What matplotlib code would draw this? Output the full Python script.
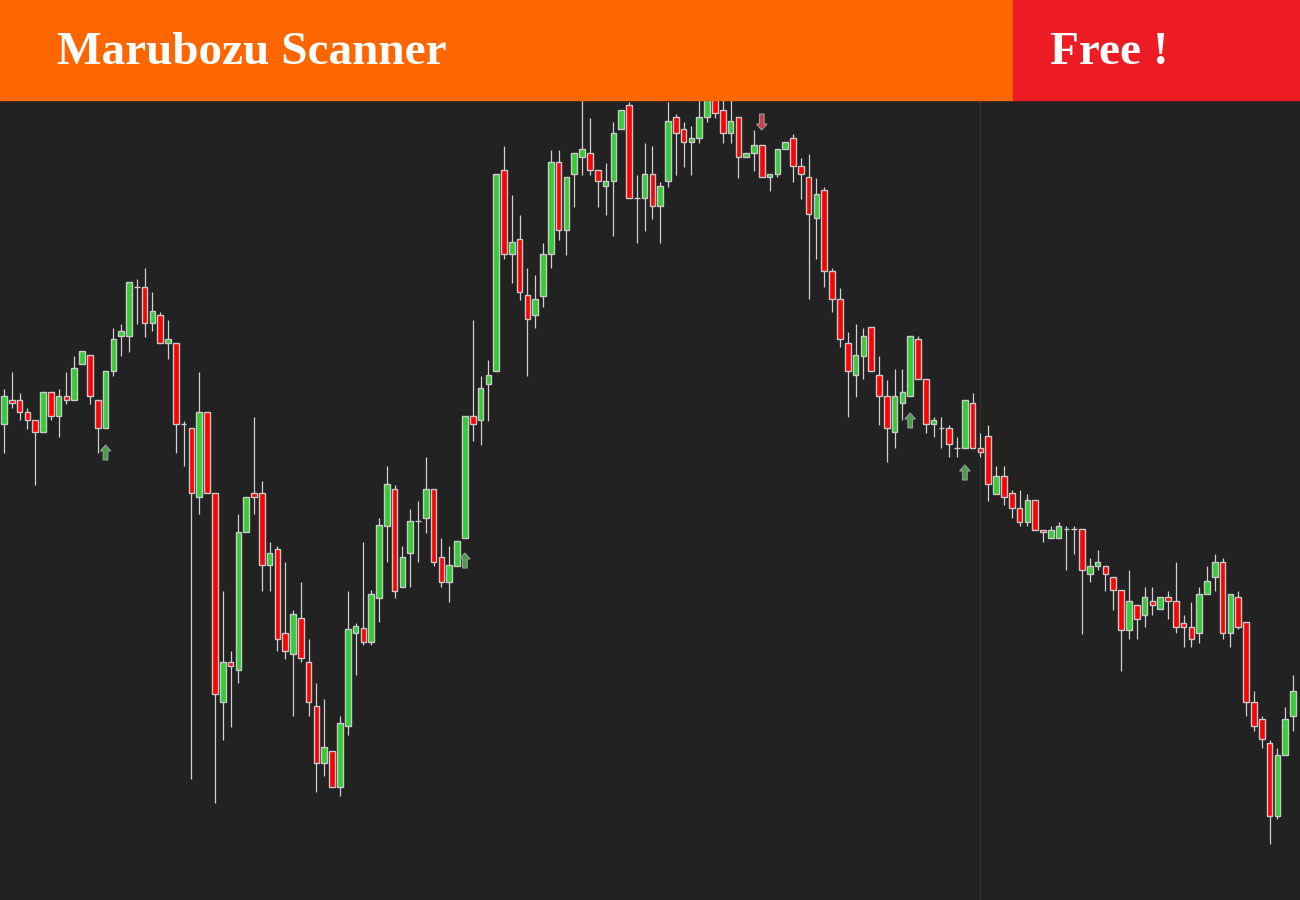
import numpy as np
import matplotlib
matplotlib.use("Agg")
import matplotlib.pyplot as plt
from matplotlib.patches import Rectangle, FancyArrow

# ---------------- data (OHLC, bar index -1 .. 165) ----------------
opens = [530,
    476, 500, 500, 488, 480, 468, 508, 484, 504, 500,
    536, 545, 500, 472, 529, 564, 564, 613, 613, 577,
    585, 557, 557, 476, 472, 403, 488, 407, 198, 238,
    230, 368, 407, 407, 335, 351, 267, 246, 282, 238,
    194, 137, 149, 113, 174, 267, 272, 258, 302, 374,
    411, 313, 347, 379, 382, 411, 343, 318, 334, 362,
    484, 480, 516, 529, 730, 646, 661, 605, 585, 604,
    646, 738, 670, 726, 743, 747, 730, 714, 719, 771,
    795, 702, 702, 726, 694, 719, 783, 771, 758, 762,
    783, 805, 790, 767, 783, 743, 747, 755, 723, 726,
    751, 762, 734, 723, 682, 710, 629, 601, 557, 525,
    544, 573, 525, 504, 468, 497, 504, 561, 521, 476,
    472, 472, 452, 452, 497, 452, 464, 406, 424, 407,
    392, 378, 400, 370, 362, 362, 371, 371, 371, 326,
    334, 334, 323, 310, 270, 295, 285, 299, 291, 303,
    299, 277, 273, 267, 306, 323, 338, 267, 303, 278,
    198, 181, 157, 84, 145, 184]
highs = [533,
    511, 528, 507, 492, 480, 508, 508, 511, 528, 544,
    549, 545, 500, 529, 572, 576, 618, 621, 632, 608,
    588, 580, 557, 479, 472, 528, 488, 407, 309, 249,
    386, 403, 483, 419, 358, 354, 338, 290, 318, 261,
    217, 201, 149, 184, 309, 277, 358, 310, 382, 434,
    415, 354, 391, 399, 443, 411, 362, 354, 359, 484,
    580, 524, 540, 726, 754, 705, 685, 632, 625, 657,
    750, 750, 723, 747, 805, 782, 730, 737, 778, 790,
    798, 725, 757, 754, 718, 798, 786, 778, 774, 805,
    810, 810, 805, 805, 783, 747, 770, 755, 726, 751,
    758, 766, 742, 746, 722, 713, 632, 612, 568, 576,
    572, 573, 544, 520, 531, 531, 564, 564, 521, 483,
    483, 475, 463, 500, 507, 467, 475, 434, 434, 410,
    410, 406, 400, 370, 374, 378, 374, 374, 371, 342,
    350, 334, 323, 310, 330, 295, 313, 313, 303, 309,
    338, 285, 298, 313, 334, 346, 342, 306, 309, 278,
    209, 184, 160, 152, 193, 225]
lows = [524,
    447, 492, 480, 471, 415, 468, 480, 463, 496, 500,
    536, 496, 447, 472, 524, 544, 548, 576, 563, 569,
    557, 541, 447, 434, 121, 386, 407, 97, 160, 173,
    217, 368, 386, 309, 309, 249, 241, 184, 238, 184,
    108, 124, 113, 104, 165, 225, 255, 255, 278, 338,
    302, 313, 313, 338, 367, 334, 313, 298, 334, 362,
    459, 455, 479, 529, 641, 617, 600, 524, 572, 593,
    632, 660, 645, 693, 725, 725, 693, 685, 664, 771,
    702, 657, 669, 681, 657, 713, 725, 733, 725, 757,
    778, 782, 757, 757, 722, 743, 729, 723, 709, 723,
    751, 718, 701, 601, 641, 613, 588, 553, 483, 503,
    521, 529, 475, 438, 452, 480, 504, 521, 467, 463,
    452, 443, 443, 452, 452, 443, 399, 406, 395, 382,
    374, 374, 370, 358, 362, 362, 330, 346, 266, 318,
    330, 309, 290, 229, 261, 261, 273, 285, 291, 281,
    267, 253, 253, 257, 306, 309, 261, 253, 271, 184,
    169, 152, 56, 81, 145, 169]
closes = [530,
    504, 497, 488, 480, 468, 508, 484, 504, 500, 532,
    549, 504, 472, 529, 561, 569, 618, 613, 577, 589,
    557, 561, 476, 476, 407, 488, 407, 206, 238, 234,
    368, 403, 403, 335, 347, 261, 249, 286, 242, 198,
    137, 153, 113, 177, 271, 274, 258, 306, 375, 416,
    309, 343, 379, 379, 411, 338, 318, 335, 359, 484,
    476, 512, 525, 726, 646, 658, 608, 581, 601, 646,
    738, 670, 723, 747, 751, 730, 719, 719, 767, 790,
    702, 702, 726, 694, 714, 779, 767, 758, 762, 783,
    805, 787, 767, 779, 743, 747, 755, 723, 726, 751,
    758, 734, 726, 686, 706, 629, 601, 561, 529, 545,
    564, 529, 504, 472, 504, 508, 564, 521, 476, 480,
    472, 456, 452, 500, 452, 448, 416, 424, 403, 392,
    378, 400, 370, 368, 370, 374, 371, 371, 330, 334,
    338, 326, 310, 270, 299, 281, 303, 295, 303, 299,
    273, 273, 261, 306, 319, 338, 267, 306, 273, 198,
    174, 161, 84, 145, 181, 209]

# signal arrows: bar index, arrow tail level, arrow tip level
buy_bars = [13, 59, 116, 123]
buy_tail = [440, 332, 472, 420]
buy_tip = [455, 347, 487, 435]
sell_bars = [97]
sell_tail = [786]
sell_tip = [770]

title_text = "Marubozu Scanner"
badge_text = "Free !"

# ---------------- figure ----------------
BG = "#222222"
fig = plt.figure(figsize=(13, 9), dpi=100)
fig.patch.set_facecolor(BG)
ax = fig.add_axes([0, 0, 1, 1])
ax.set_facecolor(BG)

idx = np.arange(-1, len(opens) - 1)
o = np.array(opens, float)
h = np.array(highs, float)
l = np.array(lows, float)
c = np.array(closes, float)

ax.set_xlim(-0.512, 165.9)
ax.set_ylim(0, 900)
ax.axis("off")

# period separator
ax.axvline(125.0, color="#303030", lw=1.0, zorder=0)

# wicks
ax.vlines(idx, l, h, color="#d0d0d0", lw=0.9, zorder=1)

colors = np.where(c > o, "#32cd32", np.where(c < o, "#ff0000", "#d0d0d0"))
bottom = np.minimum(o, c)
height = np.abs(c - o)
ax.bar(idx, height, bottom=bottom, width=0.72, color=colors,
       edgecolor="#c8c8c8", linewidth=1.0, zorder=2)

# arrows
for b, t0, t1 in zip(buy_bars, buy_tail, buy_tip):
    ax.add_patch(FancyArrow(b, t0, 0, t1 - t0, width=0.6, head_width=1.35,
                            head_length=6, length_includes_head=True,
                            fc="#46a046", ec="#9a9a9a", lw=0.8, zorder=3))
for b, t0, t1 in zip(sell_bars, sell_tail, sell_tip):
    ax.add_patch(FancyArrow(b, t0, 0, t1 - t0, width=0.6, head_width=1.35,
                            head_length=6, length_includes_head=True,
                            fc="#d23a4a", ec="#9a9a9a", lw=0.8, zorder=3))

# banner
fig.patches.append(Rectangle((0, 800 / 900), 1013 / 1300, 100 / 900,
                             transform=fig.transFigure, color="#ff6600", zorder=10))
fig.patches.append(Rectangle((1013 / 1300, 800 / 900), 287 / 1300, 100 / 900,
                             transform=fig.transFigure, color="#ed1c24", zorder=10))
fig.text(57 / 1300, 1 - 64 / 900, title_text, color="white", fontsize=34,
         fontweight="bold", family="Liberation Serif", va="baseline", ha="left", zorder=11)
fig.text(1050 / 1300, 1 - 64 / 900, badge_text, color="white", fontsize=34,
         fontweight="bold", family="Liberation Serif", va="baseline", ha="left", zorder=11)

fig.savefig("out.png", dpi=100, facecolor=BG)
